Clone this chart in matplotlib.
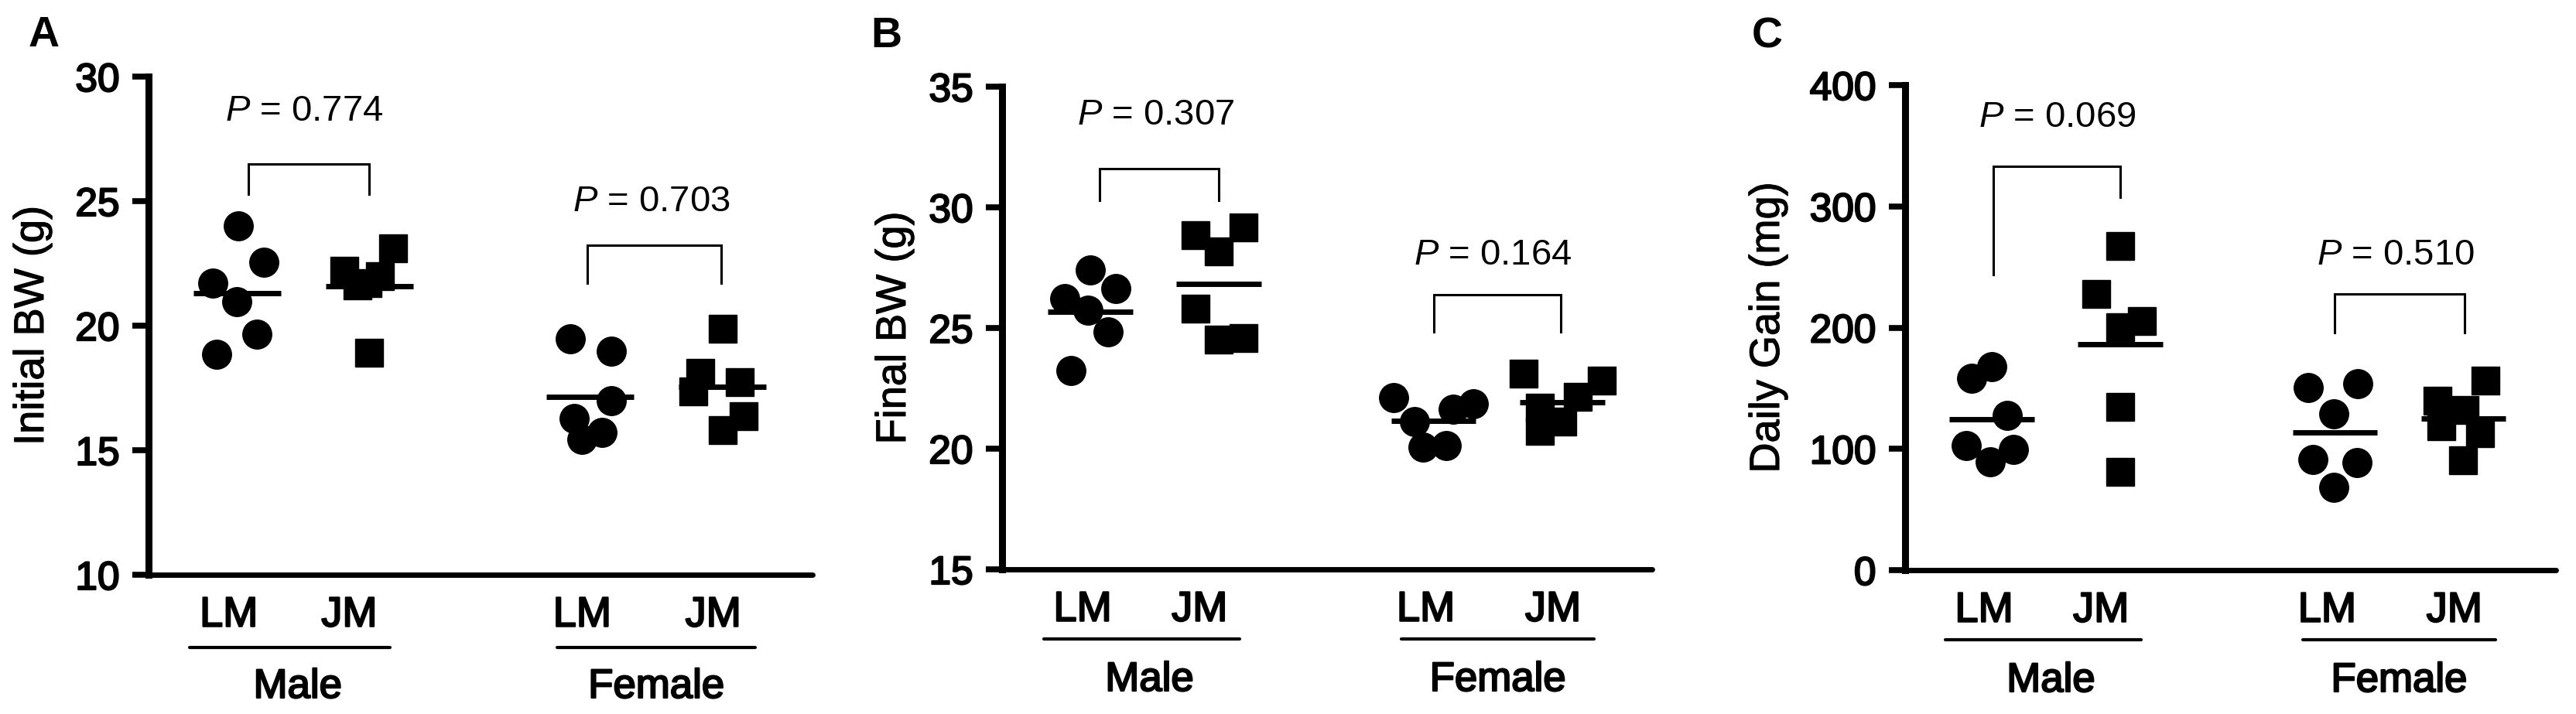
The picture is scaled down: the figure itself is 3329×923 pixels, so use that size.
import matplotlib
matplotlib.use("Agg")
import matplotlib.pyplot as plt
import matplotlib.patheffects as pe
import numpy as np
from matplotlib.transforms import blended_transform_factory, offset_copy

plt.rcParams['font.family'] = ['Liberation Sans', 'DejaVu Sans']
plt.rcParams['mathtext.fontset'] = 'custom'
plt.rcParams['mathtext.rm'] = 'Liberation Sans'
plt.rcParams['mathtext.it'] = 'Liberation Sans:italic'

# ---------------- data ----------------
GROUP_LABELS = ['LM', 'JM', 'LM', 'JM']
SEX_LABELS = ['Male', 'Female']
PANEL_LETTERS = ['A', 'B', 'C']
Y_LABELS = ['Initial BW (g)', 'Final BW (g)', 'Daily Gain (mg)']

# order: Male LM, Male JM, Female LM, Female JM
initial_bw = [
    [24.0, 22.55, 21.72, 20.97, 19.65, 18.86],
    [22.2, 23.1, 21.7, 22.0, 21.6, 18.9],
    [19.47, 18.96, 17.0, 16.26, 15.44, 15.71],
    [19.89, 18.1, 17.36, 17.73, 16.36, 15.81],
]
final_bw = [
    [27.39, 26.62, 26.21, 25.73, 24.85, 23.25],
    [28.84, 29.16, 28.18, 25.79, 24.51, 24.57],
    [22.12, 21.12, 20.08, 20.12, 21.63, 21.87],
    [23.1, 22.82, 22.16, 21.69, 21.12, 20.74],
]
daily_gain = [
    [167.6, 158.2, 127.3, 102.4, 99.8, 89.6],
    [267.4, 227.9, 205.3, 200.4, 134.5, 81.0],
    [150.7, 153.7, 128.8, 91.1, 88.5, 68.5],
    [156.3, 139.4, 131.8, 118.6, 113.0, 90.4],
]
p_initial = ['0.774', '0.703']
p_final = ['0.307', '0.164']
p_gain = ['0.069', '0.510']

Y_LIMS = [(10, 30), (15, 35), (0, 400)]
Y_TICKS = [[10, 15, 20, 25, 30], [15, 20, 25, 30, 35], [0, 100, 200, 300, 400]]

# ---------------- layout ----------------
W, H = 3329, 923
POS = [1.0, 2.0, 3.67, 4.67]
LABEL_POS = [0.94, 1.85, 3.61, 4.60]
SEX_LINE = [(0.64, 2.16), (3.42, 4.92)]
SEX_TEXT_X = [1.46, 4.17]

AX_PX = [(192, 99, 1050, 743), (1295, 112, 2135, 736), (2462, 110, 3303, 737)]
X_LIMS = [(0.333, 5.35), (0.313, 5.37), (0.325, 5.39)]

JITTER = [
    [[0.01, 0.205, -0.18, 0.0, 0.15, -0.15],
     [-0.19, 0.18, -0.01, 0.08, -0.09, 0.0],
     [-0.15, 0.16, 0.16, -0.12, -0.06, 0.09],
     [0.0, -0.17, -0.22, 0.13, 0.16, 0.0]],
    [[0.0, 0.20, -0.20, -0.02, 0.14, -0.15],
     [-0.18, 0.19, 0.0, -0.18, 0.0, 0.19],
     [-0.31, -0.15, -0.08, 0.10, 0.15, 0.31],
     [-0.30, 0.31, 0.12, -0.17, 0.0, -0.17]],
    [[0.0, -0.16, 0.12, -0.20, 0.17, -0.01],
     [0.0, -0.19, 0.17, 0.0, 0.0, 0.0],
     [-0.21, 0.18, -0.01, -0.17, 0.17, -0.01],
     [0.17, -0.20, 0.01, -0.17, 0.13, 0.0]],
]

# bracket: x0, x1, top, leg0, leg1, text_y, text_x
BRACKETS = [
    [(1.09, 2.0, 26.5, 25.27, 25.27, 28.6, 1.51), (3.65, 4.66, 23.22, 21.72, 21.72, 24.96, 4.13)],
    [(1.07, 2.0, 31.6, 30.29, 30.29, 33.8, 1.51), (3.67, 4.66, 26.39, 24.83, 24.83, 28.0, 4.13)],
    [(1.01, 2.0, 333, 244, 307.6, 373, 1.51), (3.67, 4.68, 227.9, 195.8, 195.8, 259.9, 4.14)],
]
YLABEL_X_PX = [42, 1156, 2285]
LETTER_PX = [(57, 46), (1145, 47), (2284, 47)]

datasets = [initial_bw, final_bw, daily_gain]
pvals = [p_initial, p_final, p_gain]
markers = ['o', 's', 'o', 's']

heavy = [pe.withStroke(linewidth=1.6, foreground='black')]
mid = [pe.withStroke(linewidth=0.8, foreground='black')]

fig = plt.figure(figsize=(W / 100, H / 100), dpi=100)

for k in range(3):
    l, t, r, b = AX_PX[k]
    ax = fig.add_axes([l / W, 1 - b / H, (r - l) / W, (b - t) / H])
    ax.set_xlim(*X_LIMS[k])
    ax.set_ylim(*Y_LIMS[k])
    for s in ['top', 'right']:
        ax.spines[s].set_visible(False)
    ax.spines['left'].set_linewidth(6.5)
    ax.spines['bottom'].set_linewidth(5)
    ax.spines['left'].set_capstyle('projecting')
    ax.spines['bottom'].set_capstyle('round')
    ax.set_yticks(Y_TICKS[k])
    ax.tick_params(axis='y', length=15, width=5.5, labelsize=37, pad=12)
    ax.set_xticks(LABEL_POS, GROUP_LABELS)
    ax.tick_params(axis='x', length=0, labelsize=39, pad=48)
    for lab in ax.get_xticklabels():
        lab.set_va('baseline')
        lab.set_path_effects(heavy)
    for lab in ax.get_yticklabels():
        lab.set_path_effects(heavy)

    data = datasets[k]
    for g in range(4):
        vals = np.array(data[g])
        xs = POS[g] + np.array(JITTER[k][g])
        ax.plot(xs, vals, linestyle='none', marker=markers[g], color='black',
                markersize=27 if markers[g] == 'o' else 26, zorder=3, clip_on=False)
        m = vals.mean()
        ax.hlines(m, POS[g] - 0.33, POS[g] + 0.33, color='black', lw=5, zorder=4)

    for j, (x0, x1, top, l0, l1, ty, tx) in enumerate(BRACKETS[k]):
        ax.plot([x0, x0, x1, x1], [l0, top, top, l1], color='black', lw=2.2,
                solid_joinstyle='miter', clip_on=False)
        ax.text(tx, ty, r'$\mathit{P}$ = ' + pvals[k][j], ha='center', va='center',
                fontsize=34)

    ax.set_ylabel(Y_LABELS[k], fontsize=39)
    ax.yaxis.label.set_va('center')
    ax.yaxis.label.set_path_effects(mid)
    ax.yaxis.set_label_coords((YLABEL_X_PX[k] - l) / (r - l), 0.5)

    base = blended_transform_factory(ax.transData, ax.transAxes)
    dy_line = 94 if k == 0 else 90
    dy_text = 159 if k == 0 else 157
    tl = offset_copy(base, fig=fig, x=0, y=-dy_line, units='dots')
    tt = offset_copy(base, fig=fig, x=0, y=-dy_text, units='dots')
    for s in range(2):
        ax.plot(SEX_LINE[s], [0, 0], color='black', lw=3, transform=tl,
                clip_on=False, solid_capstyle='round')
        ax.text(SEX_TEXT_X[s], 0, SEX_LABELS[s], transform=tt, ha='center',
                va='baseline', fontsize=38, path_effects=heavy)

    lx, ly = LETTER_PX[k]
    fig.text(lx / W, 1 - ly / H, PANEL_LETTERS[k], ha='center', va='center',
             fontsize=40, fontweight='bold')

fig.savefig('out.png', dpi=100, facecolor='white')
